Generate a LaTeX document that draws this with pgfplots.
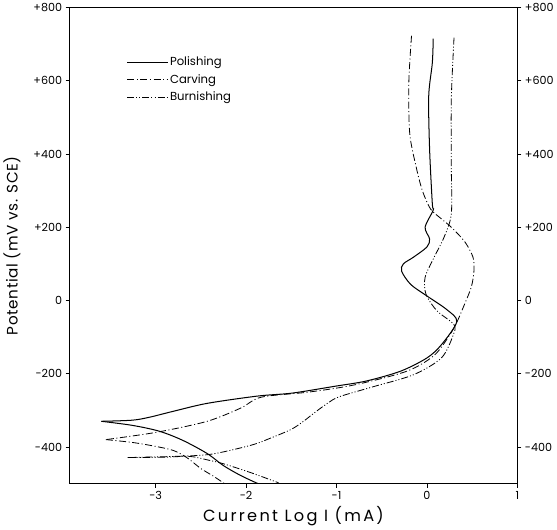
\documentclass[border=0pt]{standalone}
\usepackage{pgfplots}
\pgfplotsset{compat=1.18}
\usepackage{fontspec}
\setmainfont{Poppins}
\begin{document}
\begin{tikzpicture}
\pgfplotsset{
  common/.style={
    scale only axis, width=442pt, height=470pt,
    xmin=-3.95, xmax=1, ymin=-500, ymax=800,
    tick align=outside, major tick length=4pt,
    tick style={black, line width=0.6pt},
    ticklabel style={font=\fontsize{11}{13}\selectfont},
  },
  carv/.style={black, line width=0.8pt, dash pattern=on 7pt off 2.5pt on 1pt off 2.5pt},
  burn/.style={black, line width=0.8pt, dash pattern=on 7pt off 2pt on 1pt off 2pt on 1pt off 2pt},
  pol/.style={black, line width=1pt},
}
\begin{axis}[common,
  axis line style={line width=0.8pt},
  xtick pos=bottom, ytick pos=left,
  xtick={-3,-2,-1,0,1}, xticklabels={-3,-2,-1,0,1},
  ytick={-400,-200,0,200,400,600,800},
  yticklabels={-400,-200,0,+200,+400,+600,+800},
  xlabel={\addfontfeatures{LetterSpace=14}Current Log I (mA)},
  ylabel={\addfontfeatures{LetterSpace=4}Potential (mV vs. SCE)},
  label style={font=\fontsize{15}{17}\selectfont},
  xlabel style={font=\fontsize{16}{18}\selectfont, yshift=0pt},
  ylabel style={yshift=6pt},
  legend style={at={(rel axis cs:0.12,0.905)}, anchor=north west, draw=none, fill=none,
    font=\fontsize{11.5}{14}\selectfont, row sep=3pt},
  legend cell align=left,
  legend image code/.code={\draw[#1] (0cm,0cm) -- (1.4cm,0cm);},
]
\addplot[pol, smooth, tension=0.5] coordinates {
(0.07,715) (0.06,649) (0.02,558) (0.03,412) (0.06,264) (0.07,247) (-0.02,200) (0.03,168) (0.0,146)
(-0.15,118) (-0.26,100) (-0.28,80) (-0.18,44) (-0.01,14) (0.22,-25) (0.33,-58) (0.16,-121)
(0,-157) (-0.29,-193) (-0.67,-220) (-1.01,-234) (-1.49,-253) (-1.87,-261) (-2.43,-281)
(-2.81,-303) (-3.07,-319) (-3.26,-327) (-3.6,-330)};
\addlegendentry{Polishing}
\addplot[carv, smooth, tension=0.5] coordinates {
(-0.17,723) (-0.2,594) (-0.19,457) (-0.12,366) (-0.05,300) (0.04,250) (0.15,225) (0.27,200)
(0.42,160) (0.51,118) (0.52,80) (0.49,36) (0.40,-20) (0.33,-60) (0.25,-95) (0.08,-150)
(-0.22,-193) (-0.79,-230) (-1.3,-250) (-1.83,-264) (-2.06,-294) (-2.43,-330) (-2.99,-360) (-3.55,-380)};
\addlegendentry{Carving}
\addplot[burn, smooth, tension=0.5] coordinates {
(0.3,718) (0.27,550) (0.27,366) (0.27,237) (0.19,173) (0.08,118) (-0.02,63) (-0.01,17)
(0.11,-28) (0.30,-66) (0.29,-95) (0.16,-157) (-0.15,-203) (-0.6,-236) (-0.97,-263)
(-1.1,-281) (-1.24,-306) (-1.37,-331) (-1.5,-352) (-1.72,-375) (-1.94,-395) (-2.39,-420)
(-2.81,-426) (-3.31,-429)};
\addlegendentry{Burnishing}
\addplot[pol, smooth, tension=0.5, forget plot] coordinates {
(-3.6,-330) (-3.26,-341) (-2.96,-357) (-2.7,-382) (-2.43,-418) (-2.25,-451) (-2.06,-478) (-1.87,-500)};
\addplot[carv, smooth, tension=0.5, forget plot] coordinates {
(-3.55,-380) (-3.25,-388) (-2.99,-399) (-2.8,-410) (-2.65,-430) (-2.5,-459) (-2.36,-480) (-2.24,-500)};
\addplot[burn, smooth, tension=0.5, forget plot] coordinates {
(-3.31,-429) (-2.9,-428) (-2.62,-426) (-2.4,-437) (-2.25,-446) (-1.95,-470) (-1.64,-498)};
\end{axis}
\begin{axis}[common,
  axis x line=none, axis y line*=right,
  axis line style={line width=0.8pt},
  ytick={-400,-200,0,200,400,600,800},
  yticklabels={-400,-200,0,+200,+400,+600,+800},
]
\addplot[draw=none] coordinates {(0,0)};
\end{axis}
\end{tikzpicture}
\end{document}
